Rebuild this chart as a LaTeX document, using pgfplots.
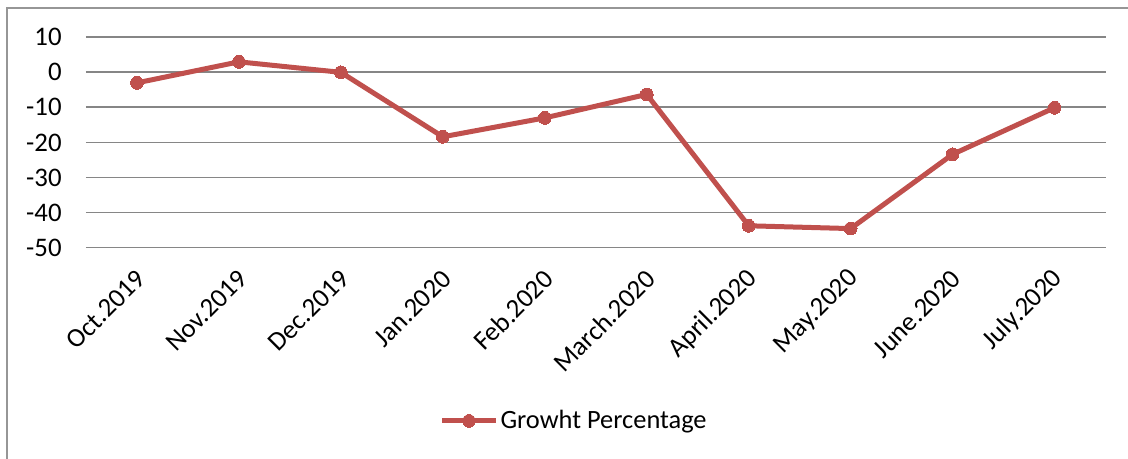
\documentclass[border=0pt]{standalone}
\usepackage{pgfplots}
\pgfplotsset{compat=1.18}
\usepackage{fontspec}
\setmainfont{Carlito}
\definecolor{exred}{RGB}{192,80,77}
\definecolor{gridgray}{RGB}{134,134,134}
\definecolor{framegray}{RGB}{150,150,150}
\begin{document}
\begin{tikzpicture}
\useasboundingbox (-43pt,-105.75pt) rectangle (521pt,123.75pt);
\draw[framegray, line width=0.8pt] (-39.5pt,-110pt) -- (-39.5pt,119.75pt) -- (530pt,119.75pt);
\begin{axis}[
  at={(0pt,0pt)}, anchor=south west,
  scale only axis,
  width=509.75pt, height=105.1pt,
  xmin=-0.5, xmax=9.5,
  ymin=-50, ymax=10,
  ytick={-50,-40,-30,-20,-10,0,10},
  yticklabels={-50,-40,-30,-20,-10,0,10},
  xtick={0,...,9},
  xticklabels={Oct.2019,Nov.2019,Dec.2019,Jan.2020,Feb.2020,March.2020,April.2020,May.2020,June.2020,July.2020},
  axis line style={draw=none},
  major tick length=0pt,
  ymajorgrids,
  grid style={gridgray, line width=0.9pt},
  every tick label/.append style={font=\fontsize{13.4}{15}\selectfont, text=black},
  yticklabel style={inner sep=0pt, anchor=east, xshift=-12pt},
  xticklabel style={inner sep=0pt, xshift=2.1pt, yshift=-13.3pt, rotate=45, anchor=east},
  legend style={draw=none, fill=none, at={(0.4787,-0.825)}, anchor=center,
    font=\fontsize{13.2}{15}\selectfont, inner sep=0pt,
    nodes={inner sep=1pt}},
  legend image code/.code={\draw[#1, mark repeat=2, mark phase=2] plot coordinates {(0pt,0pt) (13.5pt,0pt) (27pt,0pt)};},
  clip=false,
]
\addplot[exred, line width=2.5pt, mark=*, mark size=3.2pt, mark options={fill=exred, draw=exred, line width=0pt}]
  coordinates {(0,-3) (1,3) (2,0) (3,-18.4) (4,-13) (5,-6.3) (6,-43.8) (7,-44.6) (8,-23.4) (9,-10.1)};
\addlegendentry{Growht Percentage}
\end{axis}
\end{tikzpicture}
\end{document}
